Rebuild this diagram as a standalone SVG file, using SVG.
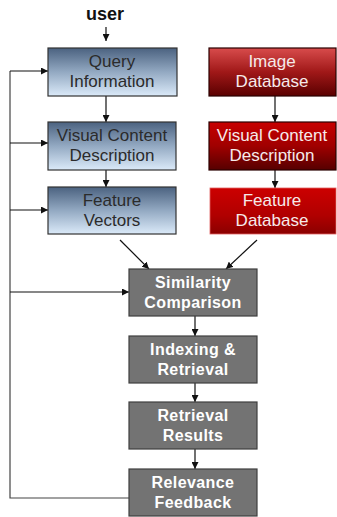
<svg xmlns="http://www.w3.org/2000/svg" width="337" height="517" viewBox="0 0 337 517">
<defs>
<linearGradient id="gBlue" x1="0" y1="0" x2="0" y2="1">
<stop offset="0" stop-color="#4b6280"/>
<stop offset="0.5" stop-color="#93a9c2"/>
<stop offset="1" stop-color="#dbeaf9"/>
</linearGradient>
<linearGradient id="gRed1" x1="0" y1="0" x2="0" y2="1">
<stop offset="0" stop-color="#d84c4c"/>
<stop offset="0.5" stop-color="#a01818"/>
<stop offset="1" stop-color="#5a0000"/>
</linearGradient>
<linearGradient id="gRed2" x1="0" y1="0" x2="0" y2="1">
<stop offset="0" stop-color="#c80000"/>
<stop offset="0.5" stop-color="#a00000"/>
<stop offset="1" stop-color="#560000"/>
</linearGradient>
<linearGradient id="gRed3" x1="0" y1="0" x2="0" y2="1">
<stop offset="0" stop-color="#cc0000"/>
<stop offset="0.6" stop-color="#b00000"/>
<stop offset="1" stop-color="#8a0000"/>
</linearGradient>
<marker id="ah" viewBox="0 0 8 8" refX="8" refY="4" markerWidth="7" markerHeight="7" markerUnits="userSpaceOnUse" orient="auto">
<path d="M0,0 L8,4 L0,8 Z" fill="#111"/>
</marker>
</defs>
<style>
.blue{fill:url(#gBlue);stroke:#333;stroke-width:1.2}
.red1{fill:url(#gRed1);stroke:#2a0000;stroke-width:1.2}
.red2{fill:url(#gRed2);stroke:#2a0000;stroke-width:1.2}
.red3{fill:url(#gRed3);stroke:#e06060;stroke-width:0.8}
.gray{fill:#737373;stroke:#3f3f3f;stroke-width:1.2}
.tb{font-family:"Liberation Sans",Arial,sans-serif;font-size:17px;fill:#2b2b2b;text-anchor:middle}
.tr{font-family:"Liberation Sans",Arial,sans-serif;font-size:17px;fill:#f6eaea;text-anchor:middle}
.tg{font-family:"Liberation Sans",Arial,sans-serif;font-size:16px;font-weight:bold;fill:#ffffff;text-anchor:middle;letter-spacing:0.4px}
.c{stroke:#111;stroke-width:1.2;fill:none;marker-end:url(#ah)}
.fb{stroke:#444;stroke-width:1.2;fill:none}
</style>
<text x="105" y="20" font-family="Liberation Sans,Arial,sans-serif" font-size="18" font-weight="bold" fill="#111" text-anchor="middle">user</text>
<g id="connectors">
<line class="c" x1="106" y1="27" x2="106" y2="41"/>
<line class="c" x1="106" y1="96" x2="106" y2="122"/>
<line class="c" x1="106" y1="170" x2="106" y2="187"/>
<line class="c" x1="275" y1="96" x2="275" y2="122"/>
<line class="c" x1="275" y1="170" x2="275" y2="188"/>
<line class="c" x1="120" y1="240" x2="149" y2="269"/>
<line class="c" x1="257" y1="240" x2="226" y2="269"/>
<line class="c" x1="195" y1="316" x2="195" y2="336"/>
<line class="c" x1="195" y1="383" x2="195" y2="402"/>
<line class="c" x1="195" y1="449" x2="195" y2="469"/>
<polyline class="fb" points="129,498 10,498 10,71"/>
<line class="c" x1="10" y1="71" x2="48" y2="71"/>
<line class="c" x1="10" y1="143" x2="48" y2="143"/>
<line class="c" x1="10" y1="210" x2="48" y2="210"/>
<line class="c" x1="10" y1="292" x2="129" y2="292"/>
</g>
<g id="query-information">
<rect class="blue" x="48" y="48" width="129" height="48"/>
<text class="tb" x="112" y="67">Query</text>
<text class="tb" x="112" y="87">Information</text>
</g>
<g id="visual-content-description-user">
<rect class="blue" x="48" y="122" width="128" height="48"/>
<text class="tb" x="112" y="141">Visual Content</text>
<text class="tb" x="112" y="161">Description</text>
</g>
<g id="feature-vectors">
<rect class="blue" x="48" y="187" width="128" height="47"/>
<text class="tb" x="112" y="206">Feature</text>
<text class="tb" x="112" y="226">Vectors</text>
</g>
<g id="image-database">
<rect class="red1" x="209" y="48" width="127" height="48"/>
<text class="tr" x="272" y="67">Image</text>
<text class="tr" x="272" y="87">Database</text>
</g>
<g id="visual-content-description-db">
<rect class="red2" x="209" y="122" width="127" height="48"/>
<text class="tr" x="272" y="141">Visual Content</text>
<text class="tr" x="272" y="161">Description</text>
</g>
<g id="feature-database">
<rect class="red3" x="210" y="188" width="126" height="46"/>
<text class="tr" x="272" y="206">Feature</text>
<text class="tr" x="272" y="226">Database</text>
</g>
<g id="similarity-comparison">
<rect class="gray" x="129" y="269" width="128" height="47"/>
<text class="tg" x="193" y="288">Similarity</text>
<text class="tg" x="193" y="308">Comparison</text>
</g>
<g id="indexing-retrieval">
<rect class="gray" x="129" y="336" width="128" height="47"/>
<text class="tg" x="193" y="355">Indexing &amp;</text>
<text class="tg" x="193" y="375">Retrieval</text>
</g>
<g id="retrieval-results">
<rect class="gray" x="129" y="402" width="128" height="47"/>
<text class="tg" x="193" y="421">Retrieval</text>
<text class="tg" x="193" y="441">Results</text>
</g>
<g id="relevance-feedback">
<rect class="gray" x="129" y="469" width="128" height="47"/>
<text class="tg" x="193" y="488">Relevance</text>
<text class="tg" x="193" y="508">Feedback</text>
</g>
</svg>
